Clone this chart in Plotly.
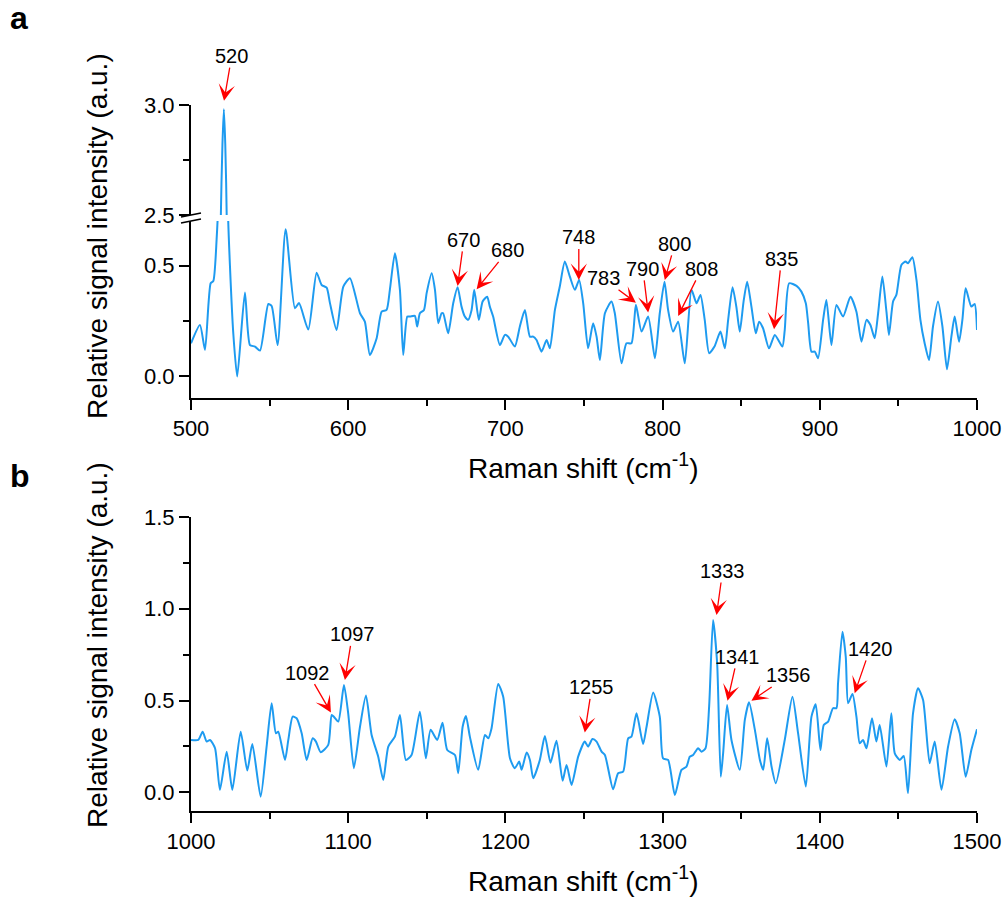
import plotly.graph_objects as go

# ---------------- data ----------------
A_X = [500, 505.7, 508.9, 512.5, 514.2, 516.3, 518.0, 519.0, 520.0, 520.9, 521.8, 522.7, 523.5, 524.8, 526.9,
       529.4, 534.3, 537.5, 540.7, 543.9, 549.2, 551.3, 555.1, 560.2, 566.1, 568.7, 574.6, 579.9, 583.1, 586.3,
       588.4, 592.6, 596.9, 601.1, 607.5, 610.6, 613.8, 618.1, 621.3, 624.4, 626.5, 629.7, 632.9, 635.0, 637.6,
       639.3, 642.4, 643.9, 645.6, 648.2, 649.9, 653.1, 655.2, 657.3, 659.4, 660.4, 663.6, 666.8, 669.6, 672.1,
       674.2, 676.3, 678.5, 680.2, 683.1, 685.5, 688.4, 690.1, 692.2, 696.5, 699.7, 701.8, 706.0, 709.2, 712.4,
       715.6, 717.7, 719.8, 723.0, 726.2, 728.3, 731.5, 734.6, 737.8, 741.0, 744.2, 746.9, 749.5, 752.6, 755.8,
       758.0, 760.1, 763.3, 767.5, 769.6, 773.9, 777.0, 780.2, 783.0, 786.6, 790.8, 795.1, 798.2, 801.2, 803.5,
       806.7, 809.9, 814.1, 818.4, 821.6, 824.1, 826.8, 829.6, 833.0, 836.8, 839.6, 841.7, 844.5, 846.9, 849.1,
       851.5, 853.8, 856.5, 859.3, 861.4, 863.9, 867.7, 871.4, 876.2, 877.7, 880.5, 885.2, 888.3, 891.1, 892.6,
       894.7, 896.8, 898.9, 902.1, 904.2, 907.4, 910.6, 914.8, 919.5, 923.3, 926.5, 929.7, 932.2, 934.9, 937.1,
       939.8, 942.4, 944.0, 946.6, 948.7, 951.9, 954.6, 956.1, 958.9, 961.5, 964.0, 966.7, 969.5, 972.0, 975.2,
       978.0, 980.9, 983.7, 985.8, 988.6, 990.7, 992.8, 996.4, 998.5, 1000.0]
A_Y = [0.148, 0.231, 0.118, 0.42, 0.43, 0.62, 0.95, 2.5, 2.82, 2.98, 2.82, 2.5, 0.75, 0.495, 0.193,
       -0.003, 0.378, 0.14, 0.133, 0.115, 0.326, 0.317, 0.14, 0.665, 0.307, 0.33, 0.21, 0.468, 0.412, 0.40,
       0.33, 0.208, 0.405, 0.443, 0.284, 0.246, 0.095, 0.171, 0.291, 0.299, 0.39, 0.556, 0.39, 0.095, 0.269,
       0.269, 0.272, 0.224, 0.284, 0.299, 0.375, 0.465, 0.39, 0.239, 0.284, 0.284, 0.193, 0.329, 0.402, 0.314,
       0.269, 0.254, 0.299, 0.39, 0.254, 0.337, 0.359, 0.314, 0.269, 0.14, 0.186, 0.178, 0.133, 0.224, 0.299,
       0.178, 0.178, 0.163, 0.11, 0.163, 0.125, 0.299, 0.405, 0.518, 0.45, 0.39, 0.435, 0.329, 0.125, 0.239,
       0.178, 0.072, 0.284, 0.337, 0.284, 0.057, 0.148, 0.148, 0.322, 0.201, 0.269, 0.08, 0.284, 0.427, 0.299,
       0.201, 0.246, 0.057, 0.39, 0.329, 0.367, 0.254, 0.103, 0.133, 0.201, 0.125, 0.254, 0.402, 0.314, 0.201,
       0.337, 0.427, 0.314, 0.193, 0.246, 0.216, 0.125, 0.186, 0.133, 0.208, 0.42, 0.408, 0.382, 0.329, 0.239,
       0.11, 0.11, 0.08, 0.254, 0.344, 0.14, 0.322, 0.269, 0.359, 0.291, 0.155, 0.254, 0.231, 0.171, 0.284,
       0.45, 0.291, 0.186, 0.337, 0.367, 0.503, 0.518, 0.51, 0.538, 0.435, 0.254, 0.148, 0.072, 0.224, 0.337,
       0.224, 0.03, 0.178, 0.269, 0.155, 0.254, 0.397, 0.314, 0.326, 0.208]

B_X = [1000, 1004.6, 1007.4, 1010.0, 1012.1, 1015.3, 1018.4, 1022.7, 1026.3, 1031.6, 1035.8, 1039.0, 1044.3,
       1048.1, 1051.3, 1054.0, 1055.5, 1059.8, 1061.9, 1064.7, 1067.2, 1070.4, 1073.6, 1077.4, 1079.5, 1082.5,
       1087.3, 1089.5, 1091.0, 1093.7, 1097.3, 1100.0, 1103.6, 1107.5, 1111.3, 1114.9, 1119.1, 1122.3, 1125.5,
       1129.7, 1132.9, 1136.7, 1140.3, 1145.6, 1149.4, 1152.4, 1156.6, 1160.0, 1163.0, 1167.9, 1170.0, 1172.8,
       1174.9, 1177.4, 1182.7, 1187.0, 1189.1, 1191.2, 1195.4, 1198.6, 1202.9, 1206.0, 1208.8, 1210.3, 1213.5,
       1215.6, 1217.7, 1221.9, 1225.1, 1228.7, 1232.5, 1236.4, 1238.9, 1242.1, 1246.3, 1250.5, 1252.6, 1255.4,
       1258.0, 1261.2, 1263.3, 1268.5, 1271.7, 1274.9, 1278.1, 1280.2, 1283.4, 1287.6, 1289.8, 1294.0, 1298.2,
       1300.3, 1303.5, 1307.8, 1312.0, 1315.2, 1317.3, 1319.4, 1322.6, 1324.7, 1327.3, 1329.6, 1332.1, 1334.7,
       1337.0, 1338.5, 1341.0, 1343.8, 1349.1, 1352.3, 1355.0, 1358.7, 1361.9, 1364.0, 1366.5, 1369.3, 1372.0,
       1377.7, 1382.6, 1386.2, 1391.1, 1394.7, 1397.4, 1400.4, 1402.5, 1405.3, 1408.4, 1410.6, 1411.6, 1414.4,
       1416.5, 1418.0, 1420.8, 1423.3, 1425.4, 1427.5, 1429.7, 1433.2, 1436.0, 1438.1, 1442.4, 1445.5, 1447.7,
       1450.9, 1453.4, 1456.1, 1459.3, 1462.5, 1465.7, 1469.9, 1473.1, 1477.4, 1481.6, 1485.8, 1489.0, 1492.8,
       1496.4, 1500.0]
B_Y = [0.285, 0.285, 0.33, 0.276, 0.285, 0.24, 0.013, 0.221, 0.013, 0.33, 0.118, 0.263, -0.024,
       0.249, 0.485, 0.321, 0.33, 0.176, 0.285, 0.412, 0.403, 0.321, 0.176, 0.294, 0.276, 0.218,
       0.258, 0.421, 0.41, 0.385, 0.585, 0.43, 0.131, 0.357, 0.527, 0.312, 0.194, 0.067, 0.249,
       0.303, 0.421, 0.176, 0.203, 0.439, 0.185, 0.34, 0.285, 0.379, 0.23, 0.203, 0.104, 0.357,
       0.416, 0.303, 0.122, 0.312, 0.294, 0.349, 0.59, 0.521, 0.185, 0.131, 0.167, 0.122, 0.216,
       0.176, 0.076, 0.176, 0.307, 0.161, 0.281, 0.063, 0.149, 0.04, 0.194, 0.276, 0.249, 0.29,
       0.276, 0.221, 0.203, 0.016, 0.104, 0.112, 0.294, 0.303, 0.43, 0.263, 0.357, 0.543, 0.412,
       0.185, 0.176, -0.015, 0.122, 0.14, 0.194, 0.203, 0.24, 0.221, 0.24, 0.467, 0.939, 0.703,
       0.085, 0.212, 0.476, 0.285, 0.122, 0.394, 0.49, 0.34, 0.176, 0.122, 0.294, 0.14, 0.049,
       0.285, 0.521, 0.321, 0.031, 0.412, 0.479, 0.23, 0.367, 0.385, 0.458, 0.458, 0.594, 0.875,
       0.739, 0.485, 0.536, 0.412, 0.267, 0.285, 0.24, 0.403, 0.276, 0.367, 0.14, 0.43, 0.212,
       0.176, 0.198, -0.005, 0.43, 0.567, 0.503, 0.158, 0.276, 0.013, 0.249, 0.398, 0.321, 0.085,
       0.23, 0.343]

A_LABELS = ["520", "670", "680", "748", "783", "790", "800", "808", "835"]
A_TIP_X = [521.0, 669.6, 681.7, 746.7, 783.0, 790.8, 801.4, 809.9, 870.9]
A_TIP_Y = [2.99, 0.408, 0.393, 0.435, 0.332, 0.287, 0.435, 0.272, 0.212]
B_LABELS = ["1092", "1097", "1255", "1333", "1341", "1356", "1420"]
B_TIP_X = [1089.0, 1097.9, 1250.5, 1334.3, 1341.3, 1356.5, 1422.2]
B_TIP_Y = [0.434, 0.612, 0.325, 0.966, 0.498, 0.499, 0.54]

# annotation geometry (pixels): label centre offset from the arrow tip, extra vertical shift
A_TEXT = [(7.7, -44.7), (6.3, -46), (31.3, -38.8), (0, -42.5), (-32.7, -24.5), (-5.3, -43.7), (10, -36), (23.4, -47), (7.4, -70.3)]
A_SHIFT = [6.2, 0, 0, 0, 0, 0, 0, 0, 0]
B_TEXT = [(-23, -40), (7.5, -45.5), (7, -45.2), (6.1, -44), (10, -44), (37.3, -25.2), (15.3, -44.3)]

W, H = 1005, 902
FONT = "Liberation Sans, Arial, sans-serif"
LINE = "#1E9BF0"
RED = "#FF0000"


def fx(p):
    return p / W


def fy(p):
    return 1 - p / H


fig = go.Figure()
line = dict(color=LINE, width=2, shape="spline", smoothing=0.6)
fig.add_trace(go.Scatter(x=A_X, y=A_Y, mode="lines", line=line, xaxis="x", yaxis="y", hoverinfo="skip"))
fig.add_trace(go.Scatter(x=A_X, y=A_Y, mode="lines", line=line, xaxis="x", yaxis="y2", hoverinfo="skip"))
fig.add_trace(go.Scatter(x=B_X, y=B_Y, mode="lines", line=line, xaxis="x2", yaxis="y3", hoverinfo="skip"))

minor = dict(ticklen=6, tickwidth=1.5, tickcolor="black", ticks="outside")
common = dict(showline=True, linecolor="black", linewidth=2, ticks="outside", ticklen=10, tickwidth=1.5,
              tickcolor="black", showgrid=False, zeroline=False, mirror=False, automargin=False,
              tickfont=dict(family=FONT, size=22, color="black"))
xdom = [fx(191), fx(977)]
fig.update_layout(
    width=W, height=H, margin=dict(l=0, r=0, t=0, b=0, autoexpand=False),
    paper_bgcolor="white", plot_bgcolor="white", showlegend=False,
    xaxis=dict(domain=xdom, range=[500, 1000], anchor="y", dtick=100, tick0=0,
               minor=dict(dtick=50, **minor), **common),
    yaxis=dict(domain=[fy(398), fy(221)], range=[-0.1, 0.702], anchor="x", dtick=0.5, tick0=0,
               tickformat=".1f", minor=dict(dtick=0.25, tick0=0, **minor), **common),
    yaxis2=dict(domain=[fy(215), fy(104.7)], range=[2.4995, 3.0005], anchor="x", dtick=0.5, tick0=0,
                tickformat=".1f", minor=dict(dtick=0.25, tick0=0, **minor), **common),
    xaxis2=dict(domain=xdom, range=[1000, 1500], anchor="y3", dtick=100, tick0=0,
                minor=dict(dtick=50, **minor), **common),
    yaxis3=dict(domain=[fy(810.6), fy(517)], range=[-0.1, 1.5], anchor="x2", dtick=0.5, tick0=0,
                tickformat=".1f", minor=dict(dtick=0.25, tick0=0, **minor), **common),
)

ann = []
tfont = dict(family=FONT, size=20, color="black")
arrow = dict(showarrow=True, arrowhead=3, arrowsize=2.1, arrowwidth=1.3, arrowcolor=RED, standoff=0,
             font=tfont, borderpad=0)
for i, lab in enumerate(A_LABELS):
    yref = "y2" if A_TIP_Y[i] > 1 else "y"
    tx, ty = A_TEXT[i]
    ann.append(dict(x=A_TIP_X[i], y=A_TIP_Y[i], xref="x", yref=yref, text=lab,
                    ax=tx, ay=ty, yshift=A_SHIFT[i], **arrow))
for i, lab in enumerate(B_LABELS):
    tx, ty = B_TEXT[i]
    ann.append(dict(x=B_TIP_X[i], y=B_TIP_Y[i], xref="x2", yref="y3", text=lab,
                    ax=tx, ay=ty, **arrow))

title_font = dict(family=FONT, size=28, color="black")
xtitle = "Raman shift (cm<sup>-1</sup>)"
ytitle = "Relative signal intensity (a.u.)"
for (cx, cy) in [(583.5, 465.6), (583.5, 879)]:
    ann.append(dict(x=fx(cx), y=fy(cy), xref="paper", yref="paper", text=xtitle, showarrow=False,
                    font=title_font, xanchor="center", yanchor="middle"))
for (cx, cy) in [(97, 236), (97, 645)]:
    ann.append(dict(x=fx(cx), y=fy(cy), xref="paper", yref="paper", text=ytitle, showarrow=False,
                    font=title_font, textangle=-90, xanchor="center", yanchor="middle"))
for (lab, cx, cy) in [("a", 19, 17.5), ("b", 19.5, 476)]:
    ann.append(dict(x=fx(cx), y=fy(cy), xref="paper", yref="paper", text="<b>%s</b>" % lab, showarrow=False,
                    font=dict(family=FONT, size=32, color="black"), xanchor="center", yanchor="middle"))
fig.update_layout(annotations=ann)

# axis break marks
shapes = []
for y0 in (217, 223):
    shapes.append(dict(type="line", xref="paper", yref="paper", x0=fx(181), y0=fy(y0), x1=fx(201), y1=fy(y0 - 4),
                       line=dict(color="black", width=1.6)))
fig.update_layout(shapes=shapes)

fig.write_html("out.html", config={"displayModeBar": False},
               post_script="document.body.style.margin='0px';document.body.style.overflow='hidden';")
